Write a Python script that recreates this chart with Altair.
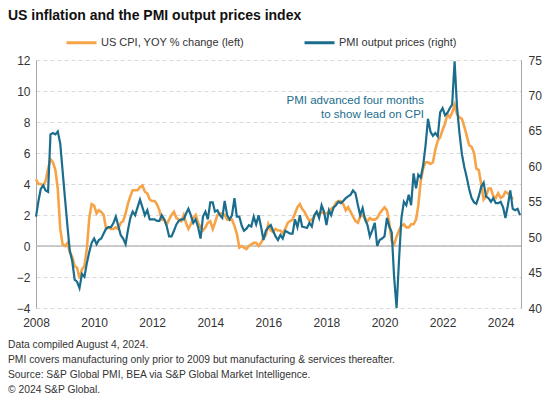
import altair as alt
import pandas as pd

ORANGE = "#F7A448"
TEAL = "#1B6D8D"
TEXT = "#333333"
FONT = "Liberation Sans"

# US CPI, YOY % change (left axis), monthly from Jan 2008
cpi_2008 = [4.3, 4.0, 4.0, 3.9, 4.2, 5.0, 5.6, 5.4, 4.9, 3.7, 1.1, 0.1]
cpi_2009 = [0.0, 0.2, -0.4, -0.7, -1.3, -1.4, -2.1, -1.5, -1.3, -0.2, 1.8, 2.7]
cpi_2010 = [2.6, 2.1, 2.3, 2.2, 2.0, 1.1, 1.2, 1.1, 1.1, 1.2, 1.1, 1.5]
cpi_2011 = [1.6, 2.1, 2.7, 3.2, 3.6, 3.6, 3.6, 3.8, 3.9, 3.5, 3.4, 3.0]
cpi_2012 = [2.9, 2.9, 2.7, 2.3, 1.7, 1.7, 1.4, 1.7, 2.0, 2.2, 1.8, 1.7]
cpi_2013 = [1.6, 2.0, 1.5, 1.1, 1.4, 1.8, 2.0, 1.5, 1.2, 1.0, 1.2, 1.5]
cpi_2014 = [1.6, 1.1, 1.5, 2.0, 2.1, 2.1, 2.0, 1.7, 1.7, 1.7, 1.3, 0.8]
cpi_2015 = [-0.1, 0.0, -0.1, -0.2, 0.0, 0.1, 0.2, 0.2, 0.0, 0.2, 0.5, 0.7]
cpi_2016 = [1.4, 1.0, 0.9, 1.1, 1.0, 1.0, 0.8, 1.1, 1.5, 1.6, 1.7, 2.1]
cpi_2017 = [2.5, 2.7, 2.4, 2.2, 1.9, 1.6, 1.7, 1.9, 2.2, 2.0, 2.2, 2.1]
cpi_2018 = [2.1, 2.2, 2.4, 2.5, 2.8, 2.9, 2.9, 2.7, 2.3, 2.5, 2.2, 1.9]
cpi_2019 = [1.6, 1.5, 1.9, 2.0, 1.8, 1.6, 1.8, 1.7, 1.7, 1.8, 2.1, 2.3]
cpi_2020 = [2.5, 2.3, 1.5, 0.3, 0.1, 0.6, 1.0, 1.3, 1.4, 1.2, 1.2, 1.4]
cpi_2021 = [1.4, 1.7, 2.6, 4.2, 5.0, 5.4, 5.4, 5.3, 5.4, 6.2, 6.8, 7.0]
cpi_2022 = [7.5, 7.9, 8.5, 8.3, 8.6, 9.1, 8.5, 8.3, 8.2, 7.7, 7.1, 6.5]
cpi_2023 = [6.4, 6.0, 5.0, 4.9, 4.0, 3.0, 3.2, 3.7, 3.7, 3.2, 3.1, 3.4]
cpi_2024 = [3.1, 3.2, 3.5, 3.4, 3.3, 3.0]

# PMI output prices index (right axis), advanced four months, monthly from Jan 2008
pmi_2008 = [52.9, 55.1, 56.8, 57.3, 56.6, 56.4, 64.5, 64.7, 64.5, 64.9, 63.2, 59.3]
pmi_2009 = [55.3, 51.4, 48.1, 46.6, 44.0, 43.7, 42.8, 44.8, 44.4, 46.3, 47.9, 49.2]
pmi_2010 = [49.8, 49.0, 49.6, 49.8, 50.5, 51.2, 51.4, 51.4, 52.0, 52.9, 51.6, 50.3]
pmi_2011 = [49.8, 49.0, 50.9, 52.7, 53.6, 53.1, 54.2, 55.3, 54.2, 53.1, 53.8, 52.5]
pmi_2012 = [52.5, 52.5, 52.3, 52.3, 53.1, 52.5, 51.6, 50.1, 50.1, 50.9, 51.8, 52.3]
pmi_2013 = [52.5, 52.5, 53.3, 54.0, 53.1, 52.0, 52.5, 51.4, 49.8, 52.9, 53.6, 52.5]
pmi_2014 = [54.9, 54.9, 53.6, 53.8, 53.1, 52.7, 55.1, 53.1, 52.5, 53.1, 55.5, 52.9]
pmi_2015 = [52.9, 51.6, 50.9, 51.2, 51.7, 51.5, 52.9, 51.8, 53.1, 51.5, 49.6, 50.9]
pmi_2016 = [51.4, 51.7, 50.9, 50.1, 49.6, 50.3, 49.8, 50.9, 50.7, 50.5, 50.5, 52.5]
pmi_2017 = [51.4, 53.1, 51.5, 51.4, 51.3, 52.0, 51.5, 53.1, 53.6, 52.7, 54.5, 53.6]
pmi_2018 = [51.7, 53.8, 53.1, 54.2, 54.5, 55.0, 54.8, 55.1, 55.5, 55.75, 56.0, 56.6]
pmi_2019 = [56.2, 54.5, 53.1, 54.1, 52.5, 51.7, 50.1, 51.0, 52.0, 48.75, 49.6, 49.8]
pmi_2020 = [50.1, 52.7, 51.5, 50.7, 44.4, 40.0, 46.6, 52.7, 55.0, 54.5, 56.0, 54.5]
pmi_2021 = [59.0, 56.9, 58.8, 58.4, 60.1, 63.0, 66.7, 64.9, 64.3, 64.7, 64.2, 67.6]
pmi_2022 = [68.2, 67.2, 67.5, 68.2, 68.7, 74.8, 68.4, 64.7, 61.7, 59.9, 58.4, 56.8]
pmi_2023 = [55.5, 54.9, 54.7, 55.75, 57.1, 57.7, 55.75, 55.5, 55.0, 55.5, 54.8, 54.8]
pmi_2024 = [55.0, 54.2, 52.7, 54.5, 56.6, 54.0, 53.8, 54.0, 53.1]

series_names = ["US CPI, YOY % change (left)", "PMI output prices (right)"]
left_ticks = [-4, -2, 0, 2, 4, 6, 8, 10, 12]
right_ticks = [40, 45, 50, 55, 60, 65, 70, 75]
year_ticks = [2008, 2010, 2012, 2014, 2016, 2018, 2020, 2022, 2024]

title_text = "US inflation and the PMI output prices index"
annotation_lines = ["PMI advanced four months", "to show lead on CPI"]
footer_lines = [
    "Data compiled August 4, 2024.",
    "PMI covers manufacturing only prior to 2009 but manufacturing & services thereafter.",
    "Source: S&P Global PMI, BEA via S&P Global Market Intelligence.",
    "\u00a9 2024 S&P Global.",
]

cpi_vals = (cpi_2008 + cpi_2009 + cpi_2010 + cpi_2011 + cpi_2012 + cpi_2013 + cpi_2014
            + cpi_2015 + cpi_2016 + cpi_2017 + cpi_2018 + cpi_2019 + cpi_2020 + cpi_2021
            + cpi_2022 + cpi_2023 + cpi_2024)
pmi_vals = (pmi_2008 + pmi_2009 + pmi_2010 + pmi_2011 + pmi_2012 + pmi_2013 + pmi_2014
            + pmi_2015 + pmi_2016 + pmi_2017 + pmi_2018 + pmi_2019 + pmi_2020 + pmi_2021
            + pmi_2022 + pmi_2023 + pmi_2024)

cpi_df = pd.DataFrame({
    "date": pd.date_range("2008-01-01", periods=len(cpi_vals), freq="MS").strftime("%Y-%m-%d"),
    "value": cpi_vals,
    "series": series_names[0],
})
pmi_df = pd.DataFrame({
    "date": pd.date_range("2008-01-01", periods=len(pmi_vals), freq="MS").strftime("%Y-%m-%d"),
    "value": pmi_vals,
    "series": series_names[1],
})

x_scale = alt.Scale(domain=[alt.DateTime(year=2008, month=1, date=1),
                            alt.DateTime(year=2024, month=9, date=13)])
cpi_y_scale = alt.Scale(domain=[-4, 12], nice=False, zero=False)
pmi_y_scale = alt.Scale(domain=[40, 75], nice=False, zero=False)
color_scale = alt.Scale(domain=series_names, range=[ORANGE, TEAL])

x_axis = alt.Axis(values=[alt.DateTime(year=y, month=1, date=1) for y in year_ticks],
                  format="%Y", domain=False, ticks=False, grid=False,
                  labelFlush=False, labelOverlap=False,
                  labelFontSize=12, labelColor=TEXT, labelPadding=9)
left_axis = alt.Axis(orient="left", values=left_ticks, grid=True,
                     gridColor="#D9D9D9", gridDash=[4, 3], gridWidth=1,
                     domain=True, domainColor="#A6A6A6", ticks=False,
                     labelFontSize=12, labelColor=TEXT, labelPadding=6)
right_axis = alt.Axis(orient="right", values=right_ticks, grid=False,
                      domain=True, domainColor="#A6A6A6", ticks=False,
                      labelFontSize=12, labelColor=TEXT, labelPadding=7)

legend = alt.Legend(
    orient="none", legendX=29, legendY=-34, direction="horizontal", title=None,
    symbolType="stroke", symbolSize=900, symbolStrokeWidth=3,
    labelFontSize=11, labelColor=TEXT, labelFont=FONT, columnPadding=53,
    labelOffset=3, padding=0,
)

zero_rule = alt.Chart(pd.DataFrame({"z": [0]})).mark_rule(
    color="#BDBDBD", strokeWidth=1.5
).encode(y=alt.Y("z:Q", scale=cpi_y_scale, title=None, axis=left_axis))

cpi_line = alt.Chart(cpi_df).mark_line(strokeWidth=2.6).encode(
    x=alt.X("date:T", scale=x_scale, title=None, axis=x_axis),
    y=alt.Y("value:Q", scale=cpi_y_scale, title=None, axis=left_axis),
    color=alt.Color("series:N", scale=color_scale, legend=legend),
)

pmi_line = alt.Chart(pmi_df).mark_line(strokeWidth=2.2).encode(
    x=alt.X("date:T", scale=x_scale, title=None, axis=x_axis),
    y=alt.Y("value:Q", scale=pmi_y_scale, title=None, axis=right_axis),
    color=alt.Color("series:N", scale=color_scale, legend=legend),
)

one_row = pd.DataFrame({"k": [0]})

title_mark = alt.Chart(one_row).mark_text(
    text=title_text, align="left", baseline="middle", fontSize=14,
    fontWeight="bold", color="#111111", font=FONT,
).encode(x=alt.value(-28), y=alt.value(-44))

annotation_marks = [
    alt.Chart(one_row).mark_text(
        text=line, align="right", baseline="middle", fontSize=11.5,
        color=TEAL, font=FONT,
    ).encode(x=alt.value(388), y=alt.value(41 + 14 * i))
    for i, line in enumerate(annotation_lines)
]

footer_marks = [
    alt.Chart(one_row).mark_text(
        text=line, align="left", baseline="middle", fontSize=10.3,
        color=TEXT, font=FONT,
    ).encode(x=alt.value(-28), y=alt.value(285 + 15 * i))
    for i, line in enumerate(footer_lines)
]

left_layer = alt.layer(zero_rule, cpi_line)
chart = alt.layer(left_layer, pmi_line, title_mark, *annotation_marks, *footer_marks).resolve_scale(
    y="independent"
).properties(
    width=485, height=248,
    autosize=alt.AutoSizeParams(type="none"),
    padding={"left": 28, "top": 52, "right": 24, "bottom": 87},
).configure(font=FONT).configure_view(stroke=None)

chart.save("out.html", embed_options={"renderer": "svg", "actions": False})
